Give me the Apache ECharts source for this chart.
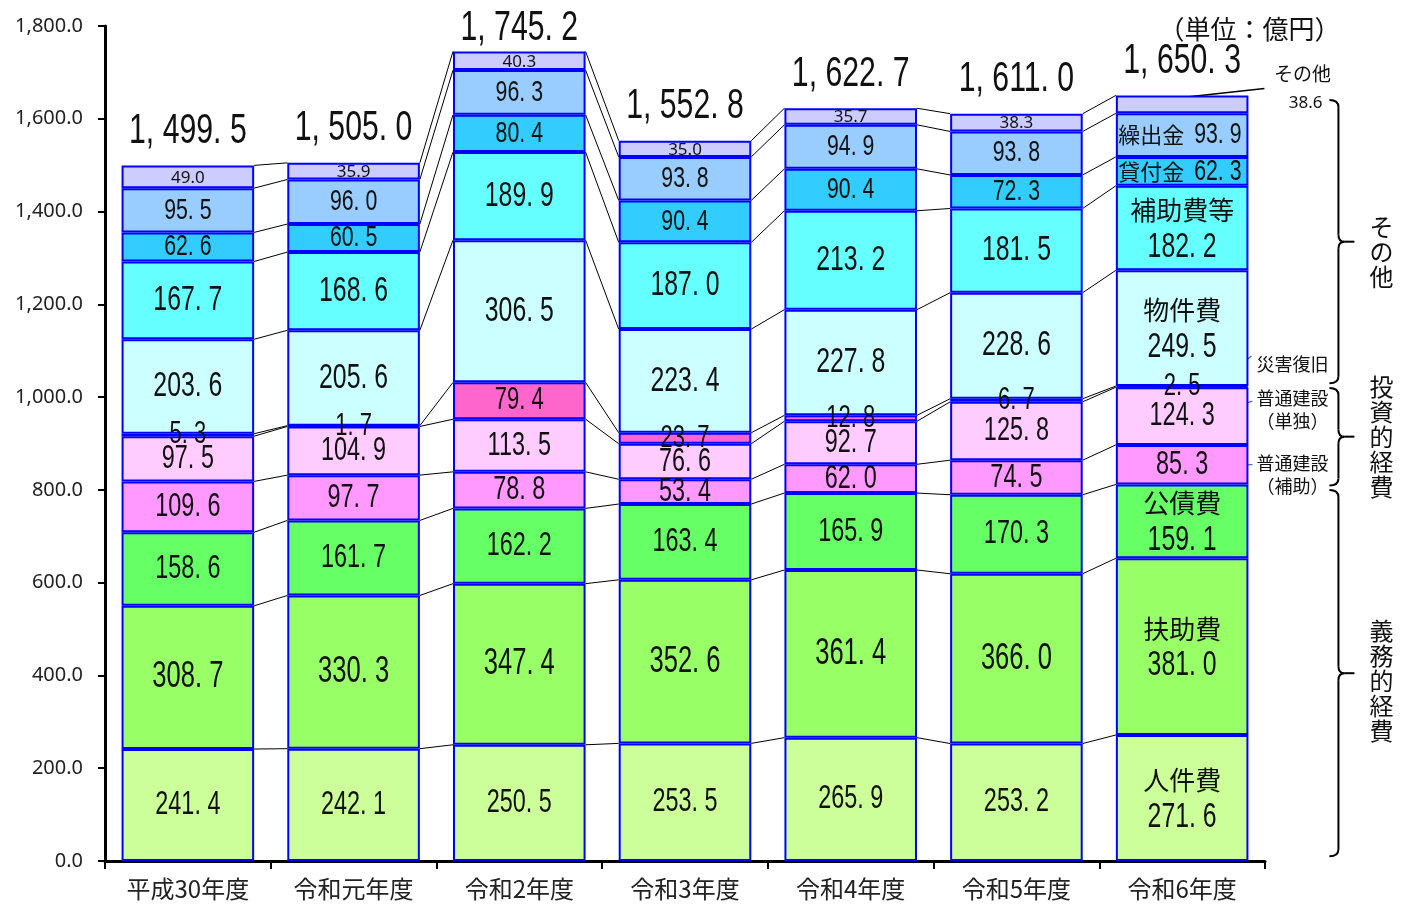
<!DOCTYPE html>
<html><head><meta charset="utf-8">
<script src="https://cdn.jsdelivr.net/npm/echarts@6/dist/echarts.min.js"></script>
<style>html,body{margin:0;padding:0;background:#fff}#c{width:1408px;height:904px}</style>
</head><body><div id="c"></div>
<script>
// ---- data ----
const categories = ['平成30年度','令和元年度','令和2年度','令和3年度','令和4年度','令和5年度','令和6年度'];
const jinkenhi   = [241.4, 242.1, 250.5, 253.5, 265.9, 253.2, 271.6];
const fujohi     = [308.7, 330.3, 347.4, 352.6, 361.4, 366.0, 381.0];
const kosaihi    = [158.6, 161.7, 162.2, 163.4, 165.9, 170.3, 159.1];
const kensetsuHojo  = [109.6, 97.7, 78.8, 53.4, 62.0, 74.5, 85.3];
const kensetsuTandoku = [97.5, 104.9, 113.5, 76.6, 92.7, 125.8, 124.3];
const saigai     = [5.3, 1.7, 79.4, 23.7, 12.8, 6.7, 2.5];
const bukkenhi   = [203.6, 205.6, 306.5, 223.4, 227.8, 228.6, 249.5];
const hojohi     = [167.7, 168.6, 189.9, 187.0, 213.2, 181.5, 182.2];
const kashitsuke = [62.6, 60.5, 80.4, 90.4, 90.4, 72.3, 62.3];
const kuridashi  = [95.5, 96.0, 96.3, 93.8, 94.9, 93.8, 93.9];
const sonota     = [49.0, 35.9, 40.3, 35.0, 35.7, 38.3, 38.6];
const totals     = [1499.5, 1505.0, 1745.2, 1552.8, 1622.7, 1611.0, 1650.3];
const yTickValues = [0, 200, 400, 600, 800, 1000, 1200, 1400, 1600, 1800];

// ---- styles ----
const NUMF = "'Liberation Sans',Arial,sans-serif";
const CJK = "'Noto Sans CJK JP','Noto Sans',sans-serif";
const TXT = '#111';
const SX = 0.71;
const seriesDefs = [
  {name:'人件費', data:jinkenhi, color:'#CCFF99', fs:33, last:'two'},
  {name:'扶助費', data:fujohi, color:'#99FF66', fs:36, last:'two'},
  {name:'公債費', data:kosaihi, color:'#66FF66', fs:33, last:'two'},
  {name:'普通建設（補助）', data:kensetsuHojo, color:'#FF99FF', fs:33},
  {name:'普通建設（単独）', data:kensetsuTandoku, color:'#FFCCFF', fs:33},
  {name:'災害復旧', data:saigai, color:'#FF66CC', fs:31},
  {name:'物件費', data:bukkenhi, color:'#CCFFFF', fs:35, last:'two'},
  {name:'補助費等', data:hojohi, color:'#66FFFF', fs:35, last:'two'},
  {name:'貸付金', data:kashitsuke, color:'#33CCFF', fs:30, last:'one'},
  {name:'繰出金', data:kuridashi, color:'#99CCFF', fs:30, last:'one'},
  {name:'その他', data:sonota, color:'#CCCCFF', fs:17, small:true}
];
const fmtSp = v => v.toFixed(1).replace('.', '. ');
const fmtTotal = v => {
  const [a, b] = v.toFixed(1).split('.');
  return a.replace(/\B(?=(\d{3})+(?!\d))/g, ', ') + '. ' + b;
};

// cumulative boundaries
const cum = [];
let run = categories.map(() => 0);
seriesDefs.forEach(d => { run = run.map((r, i) => r + d.data[i]); cum.push(run.slice()); });
const linkData = [];
for (let i = 0; i < categories.length - 1; i++) cum.forEach(c => linkData.push([i, c[i], c[i + 1]]));
const labelRows = [];
seriesDefs.forEach((d, s) => d.data.forEach((v, i) => labelRows.push([i, cum[s][i] - v, cum[s][i], s])));
totals.forEach((t, i) => labelRows.push([i, t, t, -1]));

const numText = (text, x, y, size, align, sx) => ({
  type: 'text', x: x, y: y, scaleX: sx || SX,
  style: {text: text, fontFamily: NUMF, fontSize: size, fill: TXT, align: align || 'center', verticalAlign: 'middle'}
});
const cjkText = (text, x, y, size, align) => ({
  type: 'text', x: x, y: y,
  style: {text: text, fontFamily: CJK, fontSize: size, fill: TXT, align: align || 'center', verticalAlign: 'middle'}
});

const barSeries = seriesDefs.map(d => ({
  name: d.name, type: 'bar', stack: 'all', data: d.data,
  barCategoryGap: '20%', z: 3,
  itemStyle: {color: d.color, borderColor: '#0000FF', borderWidth: 2}
}));

const yMax = yTickValues[yTickValues.length - 1];
const chart = echarts.init(document.getElementById('c'), null, {renderer: 'canvas'});
chart.setOption({
  animation: false,
  backgroundColor: '#fff',
  grid: {left: 105, right: 143, top: 26, bottom: 43, containLabel: false},
  xAxis: {
    type: 'category', data: categories,
    axisLine: {lineStyle: {color: '#000', width: 3}},
    axisTick: {show: true, length: 8, lineStyle: {color: '#000', width: 2}},
    axisLabel: {fontFamily: CJK, fontSize: 24, color: '#222', margin: 16}
  },
  yAxis: {
    type: 'value', min: yTickValues[0], max: yMax, interval: yTickValues[1] - yTickValues[0],
    axisLine: {show: true, lineStyle: {color: '#000', width: 3}},
    axisTick: {show: true, length: 7, lineStyle: {color: '#000', width: 2}},
    splitLine: {show: false},
    axisLabel: {fontFamily: "'Noto Sans',sans-serif", fontSize: 20, color: '#222', margin: 22,
      formatter: v => v.toFixed(1).replace(/\B(?=(\d{3})+(?!\d))/g, ',')}
  },
  series: [
    {
      type: 'custom', z: 1, data: linkData, encode: {x: 0, y: 1},
      renderItem: (params, api) => {
        const i = api.value(0), a = api.value(1), b = api.value(2);
        const p1 = api.coord([i, a]), p2 = api.coord([i + 1, b]);
        const hw = api.size([1, 0])[0] * 0.4;
        return {type: 'line', shape: {x1: p1[0] + hw, y1: p1[1], x2: p2[0] - hw, y2: p2[1]},
          style: {stroke: '#000', lineWidth: 1}};
      }
    },
    ...barSeries,
    {
      type: 'custom', z: 10, data: labelRows, encode: {x: 0, y: 2},
      renderItem: (params, api) => {
        const i = api.value(0), lo = api.value(1), hi = api.value(2), s = api.value(3);
        const last = i === categories.length - 1;
        if (s < 0) {
          const p = api.coord([i, hi]);
          const top = api.coord([i, yMax])[1];
          return numText(fmtTotal(totals[i]), p[0], Math.max(p[1] - 34, top + 2), 42, 'center', 0.72);
        }
        const d = seriesDefs[s];
        const v = d.data[i];
        const p = api.coord([i, (lo + hi) / 2]);
        if (d.small) {
          if (last) return null;
          return {type: 'text', x: p[0], y: p[1] + 1,
            style: {text: v.toFixed(1), fontFamily: "'Noto Sans',sans-serif", fontSize: d.fs, fill: TXT, align: 'center', verticalAlign: 'middle'}};
        }
        if (last && d.last === 'two') {
          return {type: 'group', children: [
            cjkText(d.name, p[0], p[1] - 18, 26),
            numText(fmtSp(v), p[0], p[1] + 19, 35)
          ]};
        }
        if (last && d.last === 'one') {
          return {type: 'group', children: [
            cjkText(d.name, p[0] + 2, p[1], 22, 'right'),
            numText(fmtSp(v), p[0] + 12, p[1], d.fs, 'left')
          ]};
        }
        return numText(fmtSp(v), p[0], p[1], d.fs);
      }
    }
  ]
});

// ---- annotations (derived from axis pixel mapping) ----
const px = (i, v) => chart.convertToPixel({gridIndex: 0}, [i, v]);
const L = categories.length - 1;
const band = px(1, 0)[0] - px(0, 0)[0];
const cx = px(L, 0)[0];
const barR = cx + band * 0.4;
const yv = v => px(0, v)[1];
const cL = cum.map(c => c[L]);
const B1 = cL[2], B2 = cL[5], TOP = cL[10];
const braceX = barR + 90, vertX = barR + 133, noteX = barR + 8;
const bs = {stroke: '#000', lineWidth: 2, fill: null};
function brace(x, y1, y2) {
  const ym = (y1 + y2) / 2, r = 7, w = 9, tip = 16;
  return [
    {type: 'bezierCurve', shape: {x1: x - w, y1: y1, cpx1: x, cpy1: y1, x2: x, y2: y1 + r}, style: bs},
    {type: 'line', shape: {x1: x, y1: y1 + r, x2: x, y2: ym - r}, style: bs},
    {type: 'bezierCurve', shape: {x1: x, y1: ym - r, cpx1: x, cpy1: ym, x2: x + 6, y2: ym}, style: bs},
    {type: 'line', shape: {x1: x + 6, y1: ym, x2: x + tip, y2: ym}, style: bs},
    {type: 'bezierCurve', shape: {x1: x + 6, y1: ym, cpx1: x, cpy1: ym, x2: x, y2: ym + r}, style: bs},
    {type: 'line', shape: {x1: x, y1: ym + r, x2: x, y2: y2 - r}, style: bs},
    {type: 'bezierCurve', shape: {x1: x, y1: y2 - r, cpx1: x, cpy1: y2, x2: x - w, y2: y2}, style: bs}
  ];
}
const lead = '#4a6fa5';
const g = [];
g.push({type: 'text', x: barR + 92, y: yv(yMax) + 3, style: {text: '（単位：億円）', fontFamily: CJK, fontSize: 26, fill: TXT, align: 'right', verticalAlign: 'middle'}});
// その他 note
g.push({type: 'line', shape: {x1: cx, y1: yv(TOP) + 2, x2: barR + 16, y2: yv(TOP) - 7}, style: {stroke: '#000', lineWidth: 1.5}});
g.push({type: 'text', x: barR + 54, y: yv(TOP) - 22, style: {text: 'その他', fontFamily: CJK, fontSize: 19, fill: TXT, align: 'center', verticalAlign: 'middle'}});
g.push({type: 'text', x: barR + 74, y: yv(TOP) + 8, style: {text: sonota[L].toFixed(1), fontFamily: "'Noto Sans',sans-serif", fontSize: 17, fill: TXT, align: 'right', verticalAlign: 'middle'}});
// braces
g.push(...brace(braceX, yv(TOP - 10), yv(B2 + 6)));
g.push(...brace(braceX, yv(B2 - 4), yv(B1 - 2)));
g.push(...brace(braceX, yv(B1 - 12), yv(10)));
// vertical group labels
const vt = (t, y) => g.push({type: 'text', x: vertX, y: y, style: {text: t.split('').join('\n'), fontFamily: CJK, fontSize: 24, lineHeight: 25, fill: TXT, align: 'center', verticalAlign: 'middle'}});
vt('その他', (yv(TOP - 10) + yv(B2 + 6)) / 2 + 10);
vt('投資的経費', (yv(B2 - 4) + yv(B1 - 2)) / 2);
vt('義務的経費', (yv(B1 - 12) + yv(10)) / 2 + 8);
// leader notes
const note = (t, y) => g.push({type: 'text', x: noteX, y: y, style: {text: t, fontFamily: CJK, fontSize: 18, lineHeight: 23, fill: TXT, align: 'left', verticalAlign: 'middle'}});
const ls = {stroke: lead, lineWidth: 1.3};
g.push({type: 'line', shape: {x1: cx + 35, y1: yv(B2) - 1, x2: noteX - 5, y2: yv(B2) - 30}, style: ls});
note('災害復旧', yv(B2) - 22);
const yT = yv((cL[3] + cL[4]) / 2);
g.push({type: 'line', shape: {x1: cx + 34, y1: yT - 3, x2: noteX - 4, y2: yT - 15}, style: ls});
note('普通建設\n（単独）', yT - 6);
const yH = yv((cL[2] + cL[3]) / 2);
g.push({type: 'line', shape: {x1: cx + 38, y1: yH + 1, x2: noteX - 4, y2: yH}, style: ls});
note('普通建設\n（補助）', yH + 10);
chart.setOption({graphic: g});
</script></body></html>
